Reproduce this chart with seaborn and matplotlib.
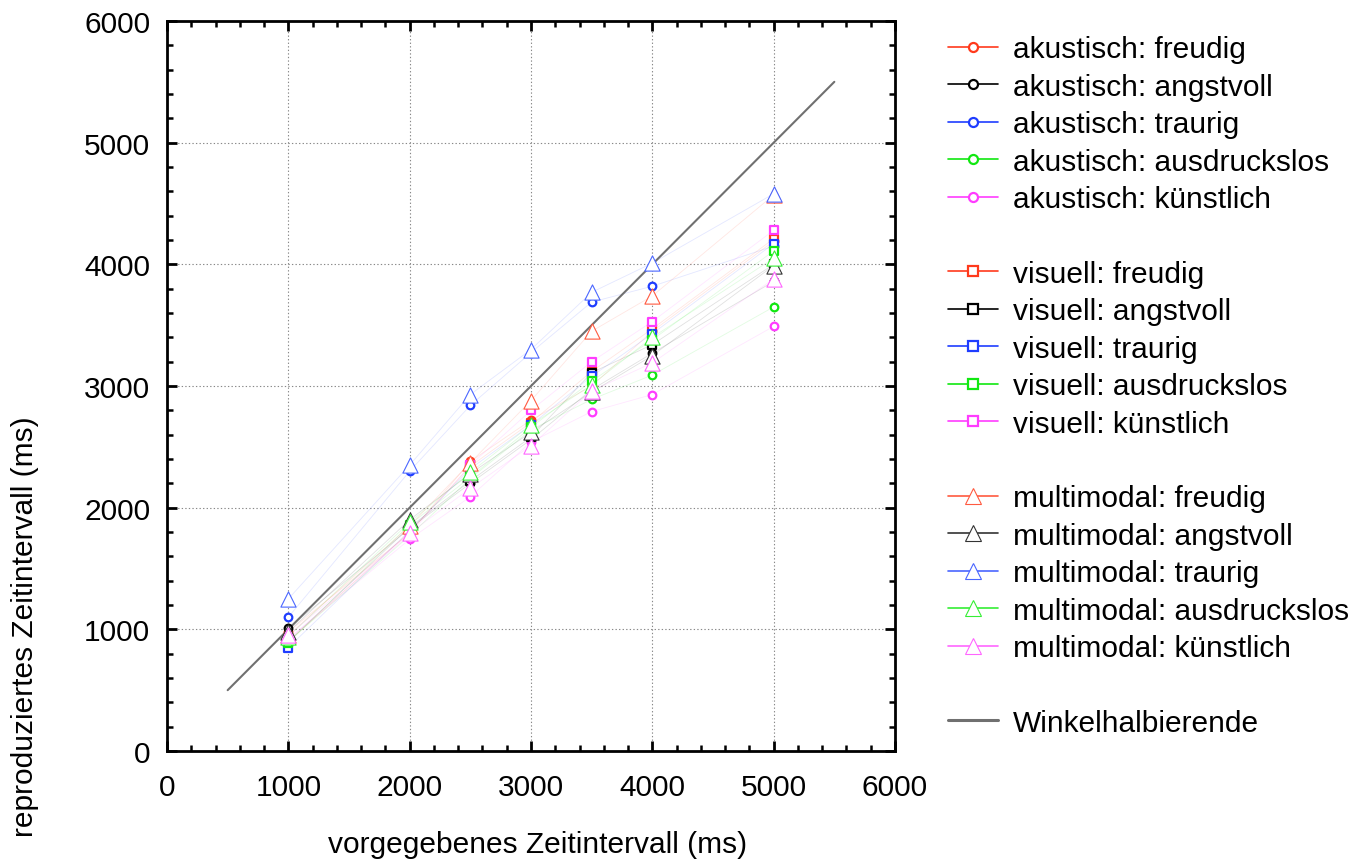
import matplotlib
matplotlib.use("Agg")
import matplotlib.pyplot as plt
from matplotlib.lines import Line2D
from matplotlib.ticker import MultipleLocator
import numpy as np
import pandas as pd
import seaborn as sns

# vorgegebene Intervalle (ms)
intervals = [1000, 2000, 2500, 3000, 3500, 4000, 5000]

emotions = ["freudig", "angstvoll", "traurig", "ausdruckslos", "künstlich"]
modalities = ["akustisch", "visuell", "multimodal"]

# reproduzierte Intervalle (ms), akustisch
akustisch_freudig      = [980, 1790, 2380, 2720, 3000, 3450, 4190]
akustisch_angstvoll    = [1010, 1830, 2200, 2560, 2970, 3270, 3860]
akustisch_traurig      = [1100, 2300, 2840, 3275, 3690, 3820, 4150]
akustisch_ausdruckslos = [900, 1770, 2240, 2640, 2890, 3090, 3650]
akustisch_kuenstlich   = [920, 1740, 2090, 2540, 2790, 2930, 3490]

# visuell
visuell_freudig      = [900, 1800, 2340, 2700, 3120, 3470, 4210]
visuell_angstvoll    = [900, 1840, 2220, 2580, 3110, 3340, 4000]
visuell_traurig      = [850, 1810, 2320, 2680, 3080, 3430, 4170]
visuell_ausdruckslos = [890, 1860, 2250, 2660, 3040, 3380, 4110]
visuell_kuenstlich   = [920, 1780, 2350, 2800, 3200, 3530, 4280]

# multimodal
multimodal_freudig      = [950, 1850, 2370, 2880, 3450, 3740, 4570]
multimodal_angstvoll    = [980, 1900, 2280, 2620, 2950, 3250, 3990]
multimodal_traurig      = [1250, 2350, 2930, 3300, 3770, 4010, 4580]
multimodal_ausdruckslos = [940, 1880, 2290, 2680, 3010, 3400, 4050]
multimodal_kuenstlich   = [950, 1790, 2160, 2510, 2960, 3190, 3880]

diagonal = [500, 5500]

series = {
    "akustisch": [akustisch_freudig, akustisch_angstvoll, akustisch_traurig,
                  akustisch_ausdruckslos, akustisch_kuenstlich],
    "visuell": [visuell_freudig, visuell_angstvoll, visuell_traurig,
                visuell_ausdruckslos, visuell_kuenstlich],
    "multimodal": [multimodal_freudig, multimodal_angstvoll, multimodal_traurig,
                   multimodal_ausdruckslos, multimodal_kuenstlich],
}

rows = []
for mod in modalities:
    for emo, vals in zip(emotions, series[mod]):
        for x, y in zip(intervals, vals):
            rows.append({"mod": mod, "emo": emo, "x": x, "y": y})
df = pd.DataFrame(rows)

colors = {"freudig": "#ff3a1c", "angstvoll": "#000000", "traurig": "#1f3dff",
          "ausdruckslos": "#11e811", "künstlich": "#ff3cff"}
tri_colors = {"freudig": "#ff5a40", "angstvoll": "#333333", "traurig": "#4a66ff",
              "ausdruckslos": "#35ee35", "künstlich": "#ff66ff"}
marker_style = {
    "akustisch": dict(marker="o", s=30, linewidth=1.6),
    "visuell": dict(marker="s", s=38, linewidth=1.6),
    "multimodal": dict(marker="^", s=120, linewidth=0.8),
}

sns.set_style("white")
plt.rcParams["font.family"] = ["Liberation Sans", "DejaVu Sans"]
plt.rcParams["text.color"] = "black"
plt.rcParams["xtick.labelcolor"] = "black"
plt.rcParams["ytick.labelcolor"] = "black"

FS = 21.5

fig = plt.figure(figsize=(13.68, 8.62), dpi=100)
ax = fig.add_axes([167 / 1368, 1 - 752 / 862, 728 / 1368, 730 / 862])

# faint connecting lines
for (mod, emo), sub in df.groupby(["mod", "emo"], sort=False):
    sns.lineplot(data=sub, x="x", y="y", ax=ax, color=colors[emo],
                 linewidth=0.6, alpha=0.12, legend=False, estimator=None)

# bisector
sns.lineplot(x=diagonal, y=diagonal, ax=ax, color="#707070", linewidth=1.5, legend=False)

# markers
for mod in modalities:
    st = marker_style[mod]
    for emo in emotions:
        sub = df[(df["mod"] == mod) & (df["emo"] == emo)]
        ec = tri_colors[emo] if mod == "multimodal" else colors[emo]
        sns.scatterplot(data=sub, x="x", y="y", ax=ax, marker=st["marker"], s=st["s"],
                        facecolor="white", edgecolor=ec, linewidth=st["linewidth"],
                        legend=False, zorder=4)

ax.set_xlim(0, 6000)
ax.set_ylim(0, 6000)
ax.xaxis.set_major_locator(MultipleLocator(1000))
ax.yaxis.set_major_locator(MultipleLocator(1000))
ax.xaxis.set_minor_locator(MultipleLocator(200))
ax.yaxis.set_minor_locator(MultipleLocator(200))
ax.grid(True, which="major", color="#888888", linestyle=(0, (1.2, 2)), linewidth=0.8)
ax.set_axisbelow(True)
for sp in ax.spines.values():
    sp.set_visible(True)
    sp.set_color("black")
    sp.set_linewidth(2)
ax.tick_params(which="both", direction="in", top=True, right=True, bottom=True, left=True,
               color="black")
ax.tick_params(which="major", length=7, width=2, labelsize=FS)
ax.tick_params(which="minor", length=4.5, width=1.8)
ax.tick_params(axis="x", which="major", pad=16)
ax.tick_params(axis="y", which="major", pad=12)
ax.set_xlabel("")
ax.set_ylabel("")

fig.text(538 / 1368, 1 - 845 / 862, "vorgegebenes Zeitintervall (ms)", ha="center",
         va="center", fontsize=FS)
fig.text(25 / 1368, 1 - 627 / 862, "reproduziertes Zeitintervall (ms)", ha="center",
         va="center", rotation=90, fontsize=FS)

# legend
handles, labels = [], []
blank = Line2D([], [], linestyle="none")
for mod in modalities:
    st = marker_style[mod]
    for emo in emotions:
        c = tri_colors[emo] if mod == "multimodal" else colors[emo]
        ms = {"o": 6.5, "s": 7, "^": 11}[st["marker"]]
        handles.append(Line2D([], [], color=c, linewidth=1.2, marker=st["marker"],
                              markersize=ms, markerfacecolor="white", markeredgecolor=c,
                              markeredgewidth=st["linewidth"]))
        labels.append(f"{mod}: {emo}")
    handles.append(blank)
    labels.append("")
handles.append(Line2D([], [], color="#707070", linewidth=2.2))
labels.append("Winkelhalbierende")

fig.legend(handles, labels, loc="upper left", bbox_to_anchor=(948 / 1368, 1 - 36.5 / 862),
           frameon=False, fontsize=FS, handlelength=1.68, handletextpad=0.5,
           labelspacing=0.315, borderpad=0, borderaxespad=0)

fig.savefig("out.png", dpi=100)
